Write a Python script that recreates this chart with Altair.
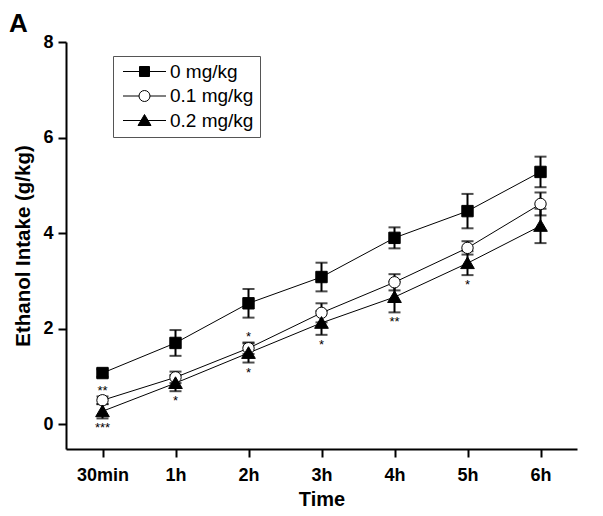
import altair as alt
import pandas as pd

# ---- data ----
times = ["30min", "1h", "2h", "3h", "4h", "5h", "6h"]
series = ["0 mg/kg", "0.1 mg/kg", "0.2 mg/kg"]
mean_0 = [1.07, 1.70, 2.53, 3.08, 3.90, 4.46, 5.28]
sem_0 = [0.08, 0.27, 0.30, 0.30, 0.22, 0.36, 0.32]
mean_01 = [0.50, 0.98, 1.59, 2.33, 2.97, 3.69, 4.61]
sem_01 = [0.08, 0.12, 0.12, 0.20, 0.17, 0.14, 0.24]
mean_02 = [0.27, 0.86, 1.49, 2.12, 2.66, 3.37, 4.15]
sem_02 = [0.15, 0.17, 0.20, 0.25, 0.32, 0.25, 0.36]

ann_time = ["30min", "30min", "1h", "2h", "2h", "3h", "4h", "5h"]
ann_text = ["**", "***", "*", "*", "*", "*", "**", "*"]
ann_side = ["above", "below", "below", "above", "below", "below", "below", "below"]

panel_label = ["A"]

# ---- tables ----
rows = []
for name, m, s in [(series[0], mean_0, sem_0), (series[1], mean_01, sem_01), (series[2], mean_02, sem_02)]:
    for t, mv, sv in zip(times, m, s):
        rows.append({"time": t, "series": name, "mean": mv, "lo": mv - sv, "hi": mv + sv})
df = pd.DataFrame(rows)

arows = []
for t, txt, side in zip(ann_time, ann_text, ann_side):
    i = times.index(t)
    if side == "above":
        anchor = mean_01[i] + sem_01[i]
    else:
        anchor = mean_02[i] - sem_02[i]
    arows.append({"time": t, "label": txt, "side": side, "anchor": anchor})
adf = pd.DataFrame(arows)

FONT = "Liberation Sans"

# marker shapes (unit paths)
SQ = "M-1,-1H1V1H-1Z"
CI = "M1,0A1,1 0 1,1 -1,0A1,1 0 1,1 1,0Z"
TR = "M0,-1.1L1.2,0.95H-1.2Z"
# legend symbols: line + marker (25 px per unit)
L_SQ = "M-0.86,0H0.86M-0.2,-0.2H0.2V0.2H-0.2Z"
L_CI = "M-0.86,0H-0.22M0.22,0H0.86M0.22,0A0.22,0.22 0 1,1 -0.22,0A0.22,0.22 0 1,1 0.22,0Z"
L_TR = "M-0.86,0H0.86M0,-0.24L0.26,0.2H-0.26Z"
LEG_SIZE = 2500

x_enc = alt.X("time:N", sort=times,
              scale=alt.Scale(type="point", padding=0.5),
              axis=alt.Axis(title="Time", labelAngle=0))
y_scale = alt.Scale(domain=[-0.52, 8], nice=False, zero=False)
y_axis = alt.Axis(title="Ethanol Intake (g/kg)", values=[0, 2, 4, 6, 8])

base = alt.Chart(df)

lines = base.mark_line(color="black", strokeWidth=1).encode(
    x=x_enc,
    y=alt.Y("mean:Q", scale=y_scale, axis=y_axis),
    detail="series:N",
)

err = base.mark_rule(color="black", strokeWidth=2).encode(
    x=alt.X("time:N", sort=times),
    y="lo:Q",
    y2="hi:Q",
)
cap_hi = base.mark_tick(color="black", size=12, thickness=2, orient="horizontal").encode(
    x=alt.X("time:N", sort=times), y="hi:Q"
)
cap_lo = base.mark_tick(color="black", size=12, thickness=2, orient="horizontal").encode(
    x=alt.X("time:N", sort=times), y="lo:Q"
)

points = base.mark_point(filled=True, stroke="black", strokeWidth=1, size=130, opacity=1).encode(
    x=alt.X("time:N", sort=times),
    y="mean:Q",
    shape=alt.Shape("series:N", scale=alt.Scale(domain=series, range=[SQ, CI, TR]), legend=None),
    fill=alt.Fill("series:N", scale=alt.Scale(domain=series, range=["black", "white", "black"]), legend=None),
)

ann_above = alt.Chart(adf).transform_filter("datum.side == 'above'").mark_text(
    font=FONT, fontSize=13, color="black", baseline="bottom", dy=2
).encode(x=alt.X("time:N", sort=times), y="anchor:Q", text="label:N")

ann_below = alt.Chart(adf).transform_filter("datum.side == 'below'").mark_text(
    font=FONT, fontSize=13, color="black", baseline="top", dy=4
).encode(x=alt.X("time:N", sort=times), y="anchor:Q", text="label:N")

panel = alt.Chart(pd.DataFrame({"label": panel_label})).mark_text(
    font=FONT, fontSize=26, fontWeight="bold", color="black", align="left", baseline="alphabetic"
).encode(x=alt.value(-57), y=alt.value(-10), text="label:N")

leg = alt.Legend(title=None, orient="none", legendX=47, legendY=14,
                 labelFont=FONT, labelFontSize=19, labelColor="black",
                 symbolSize=LEG_SIZE, symbolStrokeWidth=1,
                 clipHeight=19, rowPadding=4.5, labelOffset=0, padding=6,
                 strokeColor="#555555", fillColor="white")

legend_layer = base.transform_filter("false").mark_point(
    filled=True, strokeWidth=1, size=LEG_SIZE, opacity=1
).encode(
    x=alt.X("time:N", sort=times),
    y="mean:Q",
    shape=alt.Shape("series:N", scale=alt.Scale(domain=series, range=[L_SQ, L_CI, L_TR]), legend=leg),
    fill=alt.Fill("series:N", scale=alt.Scale(domain=series, range=["black", "white", "black"]), legend=leg),
    stroke=alt.Stroke("series:N", scale=alt.Scale(domain=series, range=["black", "black", "black"]), legend=leg),
)

chart = alt.layer(lines, err, cap_hi, cap_lo, points, ann_above, ann_below, panel, legend_layer).resolve_scale(
    shape="independent", fill="independent", stroke="independent"
).properties(
    width=511,
    height=407,
    autosize=alt.AutoSizeParams(type="none"),
    padding={"left": 58, "top": 34, "right": 18, "bottom": 59},
).configure_view(stroke=None).configure_axis(
    grid=False,
    domainColor="black",
    domainWidth=2,
    tickColor="black",
    tickWidth=2,
    tickSize=8,
    labelFont=FONT,
    labelFontSize=18,
    labelFontWeight="bold",
    labelColor="black",
    titleFont=FONT,
    titleFontWeight="bold",
    titleColor="black",
).configure_axisX(labelPadding=9, titlePadding=5, titleFontSize=20).configure_axisY(
    labelPadding=5, titlePadding=9, titleFontSize=20.5
)

chart.save("out.html", embed_options={"renderer": "svg", "actions": False})
